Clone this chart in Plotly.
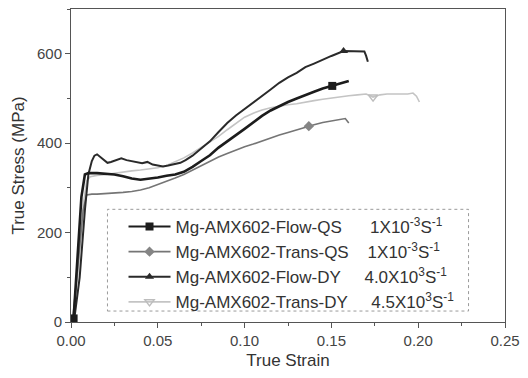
import plotly.graph_objects as go

# ---------------- data ----------------
flow_qs_x = [0.0015, 0.004, 0.006, 0.008, 0.010, 0.015, 0.020, 0.025, 0.030, 0.035, 0.040, 0.045,
             0.050, 0.055, 0.060, 0.065, 0.070, 0.075, 0.080, 0.085, 0.090, 0.095, 0.100, 0.105,
             0.110, 0.115, 0.120, 0.125, 0.130, 0.135, 0.140, 0.145, 0.1505, 0.155, 0.160]
flow_qs_y = [8, 150, 280, 330, 333, 333, 331, 330, 326, 321, 318, 320,
             323, 327, 330, 336, 347, 360, 373, 390, 403, 418, 432, 447,
             461, 473, 483, 492, 500, 508, 515, 522, 528, 534, 539]
flow_qs_marks = [0, 32]

trans_qs_x = [0.001, 0.004, 0.007, 0.009, 0.012, 0.015, 0.020, 0.025, 0.030, 0.035, 0.040, 0.045,
              0.050, 0.055, 0.060, 0.065, 0.070, 0.075, 0.080, 0.085, 0.090, 0.095, 0.100, 0.105,
              0.110, 0.115, 0.120, 0.125, 0.130, 0.137, 0.140, 0.145, 0.150, 0.155, 0.158, 0.160]
trans_qs_y = [5, 120, 250, 284, 286, 286, 287, 288, 290, 292, 295, 300,
              307, 315, 322, 330, 340, 350, 360, 369, 377, 385, 392, 398,
              405, 412, 418, 424, 430, 438, 441, 446, 450, 454, 455, 445]
trans_qs_marks = [29]

flow_dy_x = [0.002, 0.005, 0.008, 0.010, 0.012, 0.0135, 0.015, 0.017, 0.019, 0.021, 0.023, 0.026,
             0.029, 0.032, 0.035, 0.038, 0.041, 0.044, 0.047, 0.050, 0.053, 0.056, 0.060, 0.063,
             0.066, 0.070, 0.075, 0.080, 0.085, 0.090, 0.095, 0.100, 0.105, 0.110, 0.115, 0.120,
             0.125, 0.130, 0.135, 0.140, 0.145, 0.150, 0.157, 0.160, 0.164, 0.167, 0.169, 0.170, 0.171]
flow_dy_y = [10, 100, 250, 330, 360, 372, 375, 368, 362, 356, 358, 362,
             366, 362, 360, 357, 355, 358, 352, 350, 348, 350, 353, 356,
             362, 372, 388, 404, 425, 445, 462, 476, 492, 506, 520, 535,
             547, 557, 570, 578, 587, 595, 606, 606, 605, 606, 605, 595, 582]
flow_dy_marks = [42]

trans_dy_x = [0.001, 0.004, 0.007, 0.009, 0.011, 0.015, 0.020, 0.025, 0.030, 0.035, 0.040, 0.045,
              0.050, 0.055, 0.060, 0.065, 0.070, 0.075, 0.080, 0.085, 0.090, 0.095, 0.100, 0.105,
              0.110, 0.115, 0.120, 0.125, 0.130, 0.135, 0.140, 0.145, 0.150, 0.155, 0.160, 0.165,
              0.170, 0.174, 0.178, 0.182, 0.186, 0.190, 0.194, 0.197, 0.199, 0.2007]
trans_dy_y = [5, 110, 260, 315, 325, 328, 330, 333, 336, 338, 340, 342,
              345, 350, 358, 367, 378, 390, 402, 415, 430, 445, 458, 467,
              474, 479, 483, 486, 488, 492, 495, 498, 501, 504, 506, 508,
              510, 503, 508, 510, 510, 511, 510, 512, 505, 492]
trans_dy_marks = [37]

names = ["Mg-AMX602-Flow-QS" + "\u00a0" * 6 + "1X10<sup>-3</sup>S<sup>-1</sup>",
         "Mg-AMX602-Trans-QS" + "\u00a0" * 4 + "1X10<sup>-3</sup>S<sup>-1</sup>",
         "Mg-AMX602-Flow-DY" + "\u00a0" * 5 + "4.0X10<sup>3</sup>S<sup>-1</sup>",
         "Mg-AMX602-Trans-DY" + "\u00a0" * 5 + "4.5X10<sup>3</sup>S<sup>-1</sup>"]

x_ticks = [0.00, 0.05, 0.10, 0.15, 0.20, 0.25]
y_ticks = [0, 200, 400, 600]

# ---------------- styles ----------------
series = [
    dict(x=flow_qs_x, y=flow_qs_y, m=flow_qs_marks, color="#1c1c1c", width=2.6,
         symbol="square", mcolor="#1c1c1c", name=names[0]),
    dict(x=trans_qs_x, y=trans_qs_y, m=trans_qs_marks, color="#757575", width=1.6,
         symbol="diamond", mcolor="#858585", name=names[1]),
    dict(x=flow_dy_x, y=flow_dy_y, m=flow_dy_marks, color="#2a2a2a", width=2.0,
         symbol="triangle-up", mcolor="#2a2a2a", name=names[2]),
    dict(x=trans_dy_x, y=trans_dy_y, m=trans_dy_marks, color="#c4c4c4", width=1.6,
         symbol="triangle-down-open", mcolor="#bdbdbd", name=names[3]),
]

fig = go.Figure()

# curves (drawn light first, dark last)
for s in [series[3], series[1], series[2], series[0]]:
    fig.add_trace(go.Scatter(x=s["x"], y=s["y"], mode="lines", showlegend=False,
                             line=dict(color=s["color"], width=s["width"]),
                             hoverinfo="skip"))

# markers + legend entries
for s in series:
    mx, my = [], []
    for k, i in enumerate(s["m"]):
        if k > 0:
            mx.append(None)
            my.append(None)
        mx.append(s["x"][i])
        my.append(s["y"][i])
    fig.add_trace(go.Scatter(x=mx, y=my, mode="lines+markers", name=s["name"],
                             connectgaps=False,
                             line=dict(color=s["color"], width=min(s["width"], 2.0)),
                             marker=dict(symbol=s["symbol"], size=8, color=s["mcolor"],
                                         line=dict(width=1.5 if "open" in s["symbol"] else 0,
                                                   color=s["mcolor"]))))

# dotted legend frame
fig.add_shape(type="rect", xref="paper", yref="paper",
              x0=0.084, x1=0.916, y0=0.035, y1=0.36,
              line=dict(color="#9a9a9a", width=1, dash="dot"), fillcolor="rgba(0,0,0,0)")

axis_font = dict(family="Liberation Sans, Arial, sans-serif", size=15, color="#444444")
title_font = dict(family="Liberation Sans, Arial, sans-serif", size=17, color="#333333")

fig.update_layout(
    width=528, height=378,
    margin=dict(l=71, r=16, t=8, b=56),
    paper_bgcolor="white", plot_bgcolor="white",
    font=dict(family="Liberation Sans, Arial, sans-serif", color="#333333"),
    legend=dict(x=0.121, y=0.361, xanchor="left", yanchor="top",
                bgcolor="rgba(0,0,0,0)", borderwidth=0,
                font=dict(family="Liberation Sans, Arial, sans-serif", size=17, color="#333333"),
                itemwidth=42, tracegroupgap=0),
    xaxis=dict(range=[0, 0.25], tickvals=x_ticks, ticktext=[f"{v:.2f}" for v in x_ticks],
               showgrid=False, zeroline=False, showline=True, linecolor="#555555", linewidth=1,
               mirror=True, ticks="outside", ticklen=5, tickcolor="#555555",
               minor=dict(dtick=0.025, ticks="outside", ticklen=3, tickcolor="#555555"),
               tickfont=axis_font, title=dict(text="True Strain", font=title_font, standoff=6)),
    yaxis=dict(range=[0, 700], tickvals=y_ticks, showgrid=False, zeroline=False,
               showline=True, linecolor="#555555", linewidth=1, mirror=True,
               ticks="outside", ticklen=5, tickcolor="#555555",
               minor=dict(dtick=100, ticks="outside", ticklen=3, tickcolor="#555555"),
               tickfont=axis_font, title=dict(text="True Stress (MPa)", font=title_font, standoff=8)),
)

fig.write_html("out.html", config={"displayModeBar": False},
               post_script="document.body.style.margin='0';")
